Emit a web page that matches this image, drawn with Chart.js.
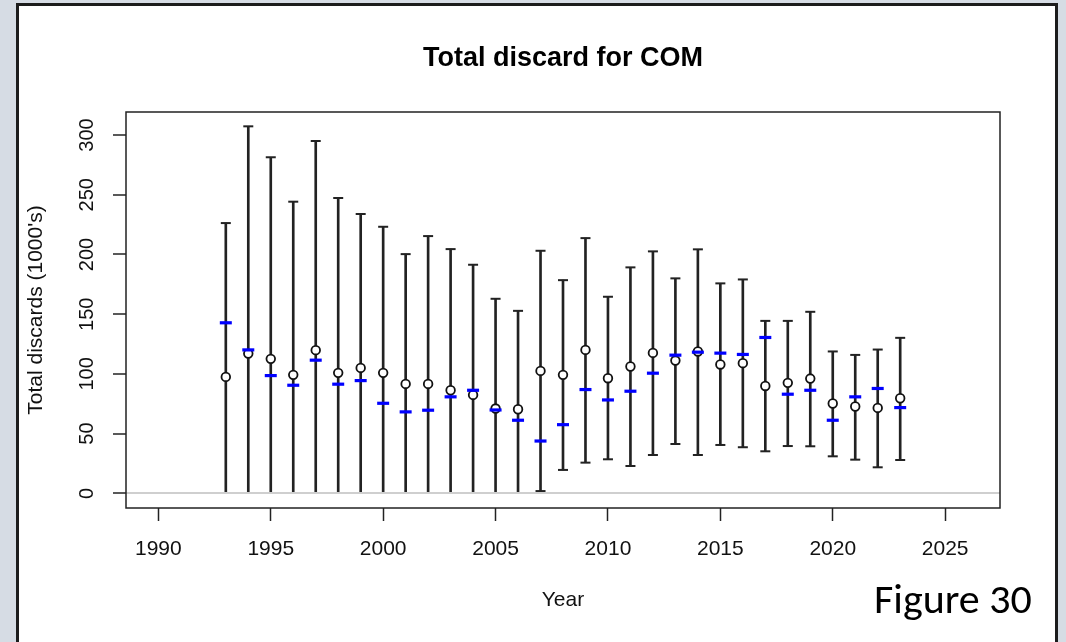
<!DOCTYPE html>
<html>
<head>
<meta charset="utf-8">
<script src="https://cdn.jsdelivr.net/npm/chart.js@4.4.1/dist/chart.umd.min.js"></script>
<style>
	html, body { margin: 0; padding: 0; }
	body { width: 1066px; height: 642px; background: #d6dce4; position: relative; overflow: hidden; }
	#frame { position: absolute; left: 16px; top: 3px; width: 1036px; height: 637px; background: #fff;
		border: 3px solid #1c1c1c; border-bottom: none; }
	#discardChart { position: absolute; left: 0; top: 0; }
	#figLabel { position: absolute; left: 874px; top: 574px; font-family: Carlito, Calibri, Lato, sans-serif;
		font-size: 42px; line-height: 50px; color: #000; }
</style>
</head>
<body>
<div id="frame"></div>
<canvas id="discardChart" width="1066" height="642"></canvas>
<div id="figLabel">Figure 30</div>
<script>
const years = [1993, 1994, 1995, 1996, 1997, 1998, 1999, 2000, 2001, 2002, 2003, 2004, 2005, 2006, 2007,
	2008, 2009, 2010, 2011, 2012, 2013, 2014, 2015, 2016, 2017, 2018, 2019, 2020, 2021, 2022, 2023];
// whisker ends
const upper = [226.3, 307.3, 281.4, 244.2, 295.0, 247.3, 233.9, 223.2, 200.3, 215.4, 204.5, 191.4, 162.9, 152.8, 203.1,
	178.5, 213.7, 164.6, 189.2, 202.6, 180.0, 204.3, 175.8, 179.1, 144.4, 144.4, 152.0, 118.8, 115.9, 120.4, 130.2];
const lower = [0, 0, 0, 0, 0, 0, 0, 0, 0, 0, 0, 0, 0, 0, 1.9,
	19.6, 25.7, 28.5, 22.9, 32.1, 41.3, 32.1, 40.5, 38.6, 35.2, 39.6, 39.4, 31.0, 28.2, 21.8, 27.9];
// open circles
const estimate = [97.5, 117.0, 112.6, 99.2, 119.9, 100.9, 105.0, 100.9, 91.6, 91.6, 86.3, 82.4, 71.0, 70.4, 102.5,
	99.2, 120.1, 96.4, 106.2, 117.6, 111.2, 118.8, 107.9, 109.0, 89.9, 92.5, 96.1, 75.2, 72.7, 71.5, 79.6];
// blue dashes
const observed = [142.8, 120.1, 98.6, 90.5, 111.5, 91.4, 94.4, 75.4, 68.2, 69.6, 80.8, 86.3, 69.8, 61.2, 43.8,
	57.5, 86.9, 78.2, 85.5, 100.6, 115.7, 118.2, 117.4, 116.3, 130.5, 83.0, 86.3, 61.2, 80.8, 87.8, 71.8];

const xTicks = [1990, 1995, 2000, 2005, 2010, 2015, 2020, 2025];
const yTicks = [0, 50, 100, 150, 200, 250, 300];

const fontFamily = "'Liberation Sans', Arial, Helvetica, sans-serif";
const ink = '#222222';

function pairs(vals) {
	return years.map(function(yr, i) { return { x: yr, y: vals[i] }; });
}

// box round the plot region, like R's box()
const boxPlugin = {
	id: 'plotBox',
	afterDraw: function(chart) {
		const a = chart.chartArea;
		const c = chart.ctx;
		c.save();
		c.strokeStyle = ink;
		c.lineWidth = 1.5;
		c.strokeRect(a.left, a.top, a.right - a.left, a.bottom - a.top);
		c.restore();
	}
};

new Chart(document.getElementById('discardChart'), {
	data: {
		datasets: [
			{
				type: 'bar',
				label: 'range',
				data: years.map(function(yr, i) { return { x: yr, y: [lower[i], upper[i]] }; }),
				backgroundColor: ink,
				borderWidth: 0,
				barThickness: 2,
				grouped: false,
				order: 4
			},
			{
				type: 'scatter',
				label: 'upper',
				data: pairs(upper),
				pointStyle: 'line',
				radius: 5,
				borderWidth: 2,
				borderColor: ink,
				order: 3
			},
			{
				type: 'scatter',
				label: 'lower',
				// caps sitting on zero are hidden by the zero line in the original
				data: pairs(lower).filter(function(p) { return p.y > 0; }),
				pointStyle: 'line',
				radius: 5,
				borderWidth: 2,
				borderColor: ink,
				order: 3
			},
			{
				type: 'scatter',
				label: 'estimate',
				data: pairs(estimate),
				pointStyle: 'circle',
				radius: 4.3,
				borderWidth: 1.8,
				borderColor: '#111111',
				backgroundColor: '#ffffff',
				order: 2
			},
			{
				type: 'scatter',
				label: 'observed',
				data: pairs(observed),
				pointStyle: 'line',
				radius: 6,
				borderWidth: 3.2,
				borderColor: '#0000ff',
				order: 1
			}
		]
	},
	options: {
		responsive: false,
		animation: false,
		devicePixelRatio: 1,
		layout: { padding: { left: 0, right: 66, top: 0, bottom: 0 } },
		plugins: {
			legend: { display: false },
			tooltip: { enabled: false },
			title: {
				display: true,
				fullSize: false,
				text: 'Total discard for COM',
				color: '#000',
				font: { family: fontFamily, size: 27, weight: 'bold', lineHeight: 1.2 },
				padding: { top: 42, bottom: 37.6 }
			}
		},
		scales: {
			x: {
				type: 'linear',
				min: 1988.56,
				max: 2027.44,
				offset: false,
				afterBuildTicks: function(scale) {
					scale.ticks = xTicks.map(function(v) { return { value: v }; });
				},
				afterFit: function(scale) { scale.height = 134; },
				grid: {
					offset: false,
					drawOnChartArea: false,
					tickLength: 13,
					tickColor: ink,
					tickWidth: 1.5
				},
				border: { display: false },
				ticks: {
					autoSkip: false,
					minRotation: 0,
					maxRotation: 0,
					padding: 16,
					color: '#111',
					font: { family: fontFamily, size: 21 },
					callback: function(v) { return String(v); }
				},
				title: {
					display: true,
					text: 'Year',
					color: '#111',
					font: { family: fontFamily, size: 21 },
					padding: { top: 0, bottom: 29 }
				}
			},
			y: {
				type: 'linear',
				min: -12.28,
				max: 319.3,
				afterBuildTicks: function(scale) {
					scale.ticks = yTicks.map(function(v) { return { value: v }; });
				},
				afterFit: function(scale) { scale.width = 126; },
				grid: {
					z: 1,
					color: function(ctx) { return ctx.tick && ctx.tick.value === 0 ? '#cfcfcf' : 'rgba(0,0,0,0)'; },
					lineWidth: 2,
					tickLength: 13,
					tickColor: ink,
					tickWidth: 1.5
				},
				border: { display: false },
				ticks: {
					minRotation: 90,
					maxRotation: 90,
					crossAlign: 'center',
					padding: 9,
					color: '#111',
					font: { family: fontFamily, size: 20 },
					callback: function(v) { return String(v); }
				},
				title: {
					display: true,
					text: "Total discards (1000's)",
					color: '#111',
					font: { family: fontFamily, size: 21 },
					padding: { top: 24, bottom: 0 }
				}
			}
		}
	},
	plugins: [boxPlugin]
});
</script>
</body>
</html>
